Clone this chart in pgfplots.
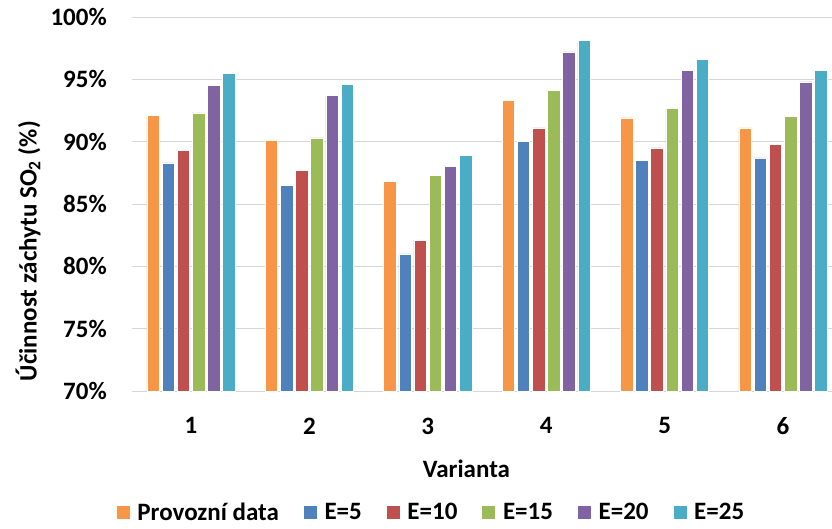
\documentclass[border=0pt]{standalone}
\usepackage{fontspec}
\setmainfont{Carlito}
\usepackage{pgfplots}
\pgfplotsset{compat=1.18}
\definecolor{cOr}{HTML}{F79646}
\definecolor{cBl}{HTML}{4F81BD}
\definecolor{cRe}{HTML}{C0504D}
\definecolor{cGr}{HTML}{9BBB59}
\definecolor{cPu}{HTML}{8064A2}
\definecolor{cCy}{HTML}{4BACC6}
\pgfplotstableread{
x prov e5 e10 e15 e20 e25
1 92.1 88.3 89.3 92.3 94.5 95.5
2 90.1 86.5 87.7 90.3 93.7 94.6
3 86.8 81.0 82.1 87.3 88.0 88.9
4 93.3 90.0 91.1 94.1 97.2 98.1
5 91.9 88.5 89.5 92.7 95.7 96.6
6 91.1 88.7 89.8 92.0 94.8 95.7
}\datatable
\begin{document}
\begin{tikzpicture}[font=\fontsize{25}{30}\selectfont\bfseries]
\begin{axis}[
  at={(0pt,0pt)}, anchor=south west,
  scale only axis, width=700.2pt, height=374pt,
  xmin=0.5, xmax=6.414, ymin=70, ymax=100,
  ytick={70,75,...,100},
  yticklabels={70\%,75\%,80\%,85\%,90\%,95\%,100\%},
  xtick={1,2,3,4,5,6},
  xticklabels={1,2,3,4,5,6},
  major tick length=0pt,
  axis line style={draw=none},
  ymajorgrids, grid style={draw=black!16, line width=1pt},
  yticklabel style={anchor=east, inner sep=0pt, xshift=-24.8pt, font=\fontsize{25}{30}\selectfont\bfseries},
  xticklabel style={anchor=north, inner sep=0pt, yshift=-26.5pt, font=\fontsize{25}{30}\selectfont\bfseries},
  xlabel={Varianta},
  xlabel style={at={(axis description cs:0.478,0)}, anchor=north, inner sep=0pt, yshift=-69pt, font=\fontsize{25}{30}\selectfont\bfseries},
  ylabel={Účinnost záchytu SO\textsubscript{2} (\%)},
  ylabel style={at={(axis description cs:-0.1482,0.374)}, anchor=center, inner sep=0pt, rotate=0, font=\fontsize{25}{30}\selectfont\bfseries},
  ybar, bar width=0.1056,
  legend columns=6,
  legend style={at={(axis description cs:0.4259,-0.3235)}, anchor=center, draw=none, fill=none,
    inner sep=0pt, font=\fontsize{25}{30}\selectfont\bfseries,
    nodes={inner sep=0pt},
    /tikz/every odd column/.append style={column sep=7pt},
    /tikz/every even column/.append style={column sep=24pt}},
  legend image code/.code={\fill[#1] (0pt,-7pt) rectangle (14pt,7pt);},
  every axis plot/.append style={draw=white, line width=0.6pt},
]
\addplot[fill=cOr, bar shift=-0.32] table[x=x,y=prov]{\datatable};
\addplot[fill=cBl, bar shift=-0.192] table[x=x,y=e5]{\datatable};
\addplot[fill=cRe, bar shift=-0.064] table[x=x,y=e10]{\datatable};
\addplot[fill=cGr, bar shift=0.064] table[x=x,y=e15]{\datatable};
\addplot[fill=cPu, bar shift=0.192] table[x=x,y=e20]{\datatable};
\addplot[fill=cCy, bar shift=0.32] table[x=x,y=e25]{\datatable};
\legend{Provozní data,E=5,E=10,E=15,E=20,E=25}
\end{axis}
\pgfresetboundingbox
\useasboundingbox (-131.8pt,-137pt) rectangle (700.2pt,391pt);
\end{tikzpicture}
\end{document}
